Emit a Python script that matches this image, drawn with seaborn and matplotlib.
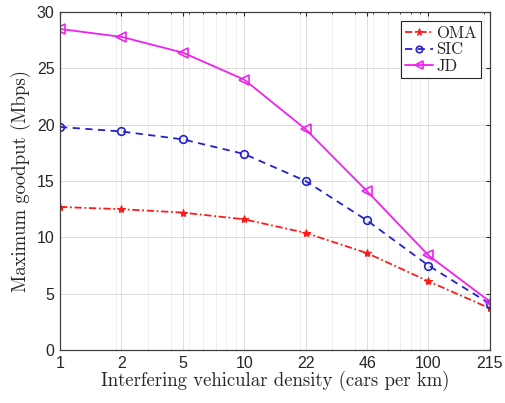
import numpy as np
import pandas as pd
import matplotlib
matplotlib.use("Agg")
import matplotlib.pyplot as plt
import seaborn as sns

# Interfering vehicular density (cars per km), log-spaced sample points
density = [1.0, 2.154, 4.642, 10.0, 21.54, 46.42, 100.0, 215.4]
density_labels = ["1", "2", "5", "10", "22", "46", "100", "215"]

# Maximum goodput (Mbps) per scheme
goodput_oma = [12.7, 12.5, 12.2, 11.6, 10.4, 8.6, 6.1, 3.7]
goodput_sic = [19.8, 19.4, 18.7, 17.4, 15.0, 11.5, 7.5, 4.1]
goodput_jd = [28.5, 27.8, 26.4, 24.0, 19.6, 14.1, 8.4, 4.3]

sns.set_style("white")
plt.rcParams["font.family"] = ["Liberation Sans", "DejaVu Sans"]
serif = ["cmr10", "DejaVu Serif"]

fig = plt.figure(figsize=(5.05, 4.03), dpi=100)
ax = fig.add_axes([0.119, 0.1315, 0.851, 0.8385])

series = [
    ("OMA", goodput_oma, dict(color="#ff1a1a", linestyle=(0, (4, 1.5, 1, 1.5)), marker="*",
                              markersize=6, markerfacecolor="#ff1a1a", markeredgecolor="#ff1a1a")),
    ("SIC", goodput_sic, dict(color="#2222cc", linestyle=(0, (4, 3)), marker="o",
                              markersize=5.5, markerfacecolor="none", markeredgecolor="#2222cc",
                              markeredgewidth=1.2)),
    ("JD", goodput_jd, dict(color="#ee22ee", linestyle="-", marker="<",
                            markersize=6.5, markerfacecolor="none", markeredgecolor="#ee22ee",
                            markeredgewidth=1.2)),
]

for name, vals, style in series:
    df = pd.DataFrame({"density": density, "goodput": vals})
    sns.lineplot(data=df, x="density", y="goodput", ax=ax, label=name,
                 linewidth=1.3, **style)

ax.set_xscale("log")
ax.set_xlim(density[0], density[-1])
ax.set_ylim(0, 30)
ax.set_xticks(density)
ax.set_xticklabels(density_labels)
ax.xaxis.set_minor_locator(matplotlib.ticker.LogLocator(base=10, subs=np.arange(2, 10)))
ax.xaxis.set_minor_formatter(matplotlib.ticker.NullFormatter())
ax.set_yticks(np.arange(0, 31, 5))

ax.grid(True, which="major", color="#dcdcdc", linewidth=0.7)
ax.grid(True, which="minor", axis="x", color="#ebebeb", linewidth=0.6)
ax.set_axisbelow(True)

for sp in ax.spines.values():
    sp.set_color("#404040")
    sp.set_linewidth(0.9)

ax.tick_params(axis="both", which="major", direction="in", length=3, labelsize=11.5,
               colors="#262626", top=True, right=True, pad=4)
ax.tick_params(axis="x", which="minor", direction="in", length=1.5, top=True)

ax.set_xlabel("Interfering vehicular density (cars per km)", fontfamily=serif,
              fontsize=13.5, color="#262626", labelpad=0)
ax.set_ylabel("Maximum goodput (Mbps)", fontfamily=serif,
              fontsize=13.5, color="#262626", labelpad=4)

leg = ax.legend(loc="upper right", prop={"family": serif, "size": 12},
                frameon=True, fancybox=False, framealpha=1, edgecolor="#262626",
                handlelength=1.7, handletextpad=0.15, borderpad=0.25, labelspacing=0.08,
                borderaxespad=0.55, markerscale=0.85)
leg.get_frame().set_linewidth(0.8)

fig.savefig("out.png", dpi=100)
